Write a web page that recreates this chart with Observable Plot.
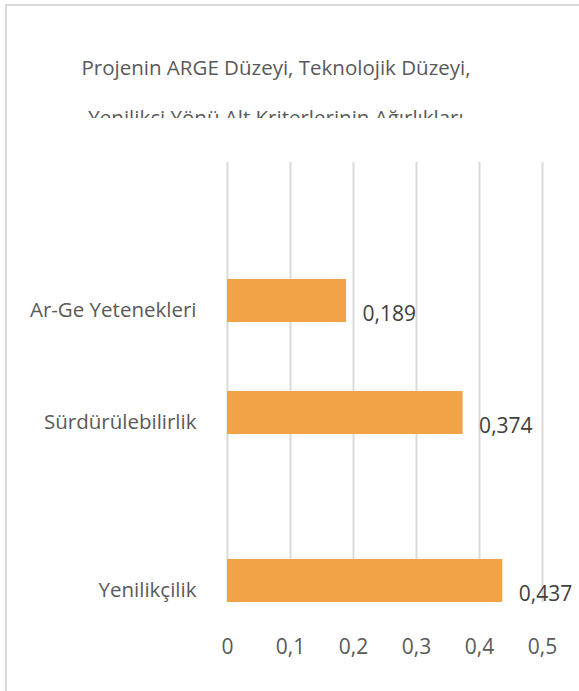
<!DOCTYPE html>
<html>
<head>
<meta charset="utf-8">
<script src="https://cdn.jsdelivr.net/npm/d3@7"></script>
<script src="https://cdn.jsdelivr.net/npm/@observablehq/plot@0.6"></script>
<style>
  html, body { margin: 0; padding: 0; background: #fff; }
  #wrap { position: relative; width: 579px; height: 691px; overflow: hidden; background: #fff; font-family: "Open Sans", sans-serif; }
  #frame { position: absolute; left: 5px; top: 4px; width: 700px; height: 800px; border-top: 2px solid #d9d9d9; border-left: 2px solid #d9d9d9; }
  #title { position: absolute; left: 0; top: 42px; width: 552px; height: 76px; overflow: hidden; text-align: center; color: #595959; font-size: 20.5px; line-height: 50px; white-space: nowrap; }
  #chart { position: absolute; left: 0; top: 0; }
</style>
</head>
<body>
<div id="wrap">
  <div id="frame"></div>
  <div id="title">Projenin ARGE Düzeyi, Teknolojik Düzeyi,<br>Yenilikçi Yönü Alt Kriterlerinin Ağırlıkları</div>
  <div id="chart"></div>
</div>
<script>
const categories = ["Ar-Ge Yetenekleri", "Sürdürülebilirlik", "Yenilikçilik"];
const values = [0.189, 0.374, 0.437];
const xTicks = [0, 0.1, 0.2, 0.3, 0.4, 0.5];

const data = categories.map((c, i) => ({category: c, value: values[i]}));
// empty slots reproduce the uneven spacing of the original
const yDomain = ["\u200b1", "\u200b2", categories[0], "\u200b3", categories[1], "\u200b4", "\u200b5", categories[2]];
const comma = v => String(v).replace(".", ",");

const chart = Plot.plot({
  width: 579,
  height: 691,
  marginTop: 162,
  marginBottom: 89,
  marginLeft: 227,
  marginRight: 37,
  style: {fontFamily: "'Open Sans', sans-serif", color: "#595959", background: "transparent", overflow: "visible"},
  x: {domain: [0, 0.5]},
  y: {domain: yDomain, paddingInner: 0.232, paddingOuter: 0, align: 1},
  marks: [
    Plot.gridX(xTicks, {stroke: "#d9d9d9", strokeOpacity: 1, strokeWidth: 2}),
    Plot.barX(data, {x: "value", y: "category", fill: "#F2A347"}),
    Plot.text(data, {x: "value", y: "category", text: d => comma(d.value), textAnchor: "start", dx: 16, dy: 13, fontSize: 21, fill: "#404040"}),
    Plot.axisX({ticks: xTicks, tickFormat: comma, tickSize: 0, tickPadding: 37, fontSize: 21, anchor: "bottom", label: null}),
    Plot.axisY({ticks: categories, tickSize: 0, tickPadding: 31, fontSize: 20.5, anchor: "left", label: null, dy: 9})
  ]
});
document.getElementById("chart").appendChild(chart);
</script>
</body>
</html>
